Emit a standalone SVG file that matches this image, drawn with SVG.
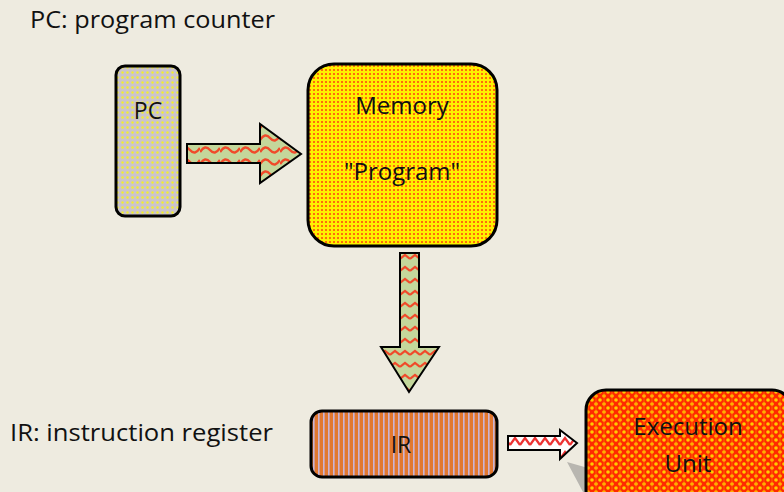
<svg xmlns="http://www.w3.org/2000/svg" width="784" height="492" viewBox="0 0 784 492">
<defs>
<pattern id="pDots" width="5" height="5" patternUnits="userSpaceOnUse">
<rect width="5" height="5" fill="#cbc4cc"/>
<circle cx="2.5" cy="2.5" r="1.2" fill="#f2ee30"/>
</pattern>
<pattern id="pMem" width="4" height="4" patternUnits="userSpaceOnUse">
<rect width="4" height="4" fill="#fff000"/>
<circle cx="2" cy="2" r="1" fill="#ff4010"/>
</pattern>
<pattern id="pWave" width="20" height="12" patternUnits="userSpaceOnUse">
<rect width="20" height="12" fill="#c4d79b"/>
<path d="M0 8 Q5 0 10 6 T20 4" fill="none" stroke="#f04a2a" stroke-width="2.4"/>
</pattern>
<pattern id="pWaveV" width="10" height="12" patternUnits="userSpaceOnUse">
<rect width="10" height="12" fill="#c4d79b"/>
<path d="M0 7 L5 3 L10 7" fill="none" stroke="#f04a2a" stroke-width="2.2"/>
</pattern>
<pattern id="pStripe" width="5" height="5" patternUnits="userSpaceOnUse">
<rect width="5" height="5" fill="#e2782f"/>
<rect x="3" width="1.6" height="5" fill="#c9b4d6"/>
</pattern>
<pattern id="pZig" width="10" height="14" patternUnits="userSpaceOnUse">
<rect width="10" height="14" fill="#ffffff"/>
<path d="M0 11 L5 4 L10 11" fill="none" stroke="#ee3333" stroke-width="2.2"/>
</pattern>
<pattern id="pEU" width="8" height="8" patternUnits="userSpaceOnUse">
<rect width="8" height="8" fill="#ff2a00"/>
<circle cx="0" cy="0" r="1.8" fill="#ffcc00"/>
<circle cx="8" cy="0" r="1.8" fill="#ffcc00"/>
<circle cx="0" cy="8" r="1.8" fill="#ffcc00"/>
<circle cx="8" cy="8" r="1.8" fill="#ffcc00"/>
<circle cx="4" cy="4" r="1.8" fill="#ffcc00"/>
<rect x="3.3" y="0" width="1.4" height="8" fill="#ff7a00" opacity="0.5"/>
</pattern>
</defs>
<style>
.box{stroke:#000;stroke-width:3}
.arr{stroke:#000;stroke-width:2;stroke-linejoin:miter}
.t{font-family:"Open Sans","Liberation Sans",sans-serif;fill:#111}
.lbl{font-family:"Open Sans","Liberation Sans",sans-serif;fill:#111;text-anchor:middle}
</style>
<rect width="784" height="492" fill="#eeebe0"/>
<g id="captions">
<text class="t" x="30" y="28" font-size="23" textLength="245" lengthAdjust="spacingAndGlyphs">PC: program counter</text>
<text class="t" x="10" y="441" font-size="23" textLength="263" lengthAdjust="spacingAndGlyphs">IR: instruction register</text>
</g>
<g id="connectors">
<path class="arr" fill="url(#pWave)" d="M187 144 H260 V124 L301 154 L260 183 V163 H187 Z"/>
<path class="arr" fill="url(#pWaveV)" d="M400 253 H419 V347 H439 L409 392 L381 347 H400 Z"/>
<path class="arr" fill="url(#pZig)" d="M508 436 H560 V430 L577 443 L560 459 V450 H508 Z"/>
</g>
<g id="pc">
<rect class="box" x="116" y="66" width="64" height="150" rx="9" fill="url(#pDots)"/>
<text class="lbl" x="148" y="119" font-size="23">PC</text>
</g>
<g id="memory">
<rect class="box" x="308" y="64" width="189" height="182" rx="26" fill="url(#pMem)"/>
<text class="lbl" x="402" y="114" font-size="24">Memory</text>
<text class="lbl" x="402" y="180" font-size="24">"Program"</text>
</g>
<g id="ir">
<rect class="box" x="311" y="411" width="186" height="66" rx="11" fill="url(#pStripe)"/>
<text class="lbl" x="401" y="453" font-size="23">IR</text>
</g>
<g id="execution-unit">
<polygon points="567,462 588,468 588,492 583,492" fill="#b8b6b0"/>
<rect class="box" x="586" y="390" width="206" height="120" rx="20" fill="url(#pEU)"/>
<text class="lbl" x="688" y="435" font-size="24">Execution</text>
<text class="lbl" x="688" y="472" font-size="24">Unit</text>
</g>
</svg>
